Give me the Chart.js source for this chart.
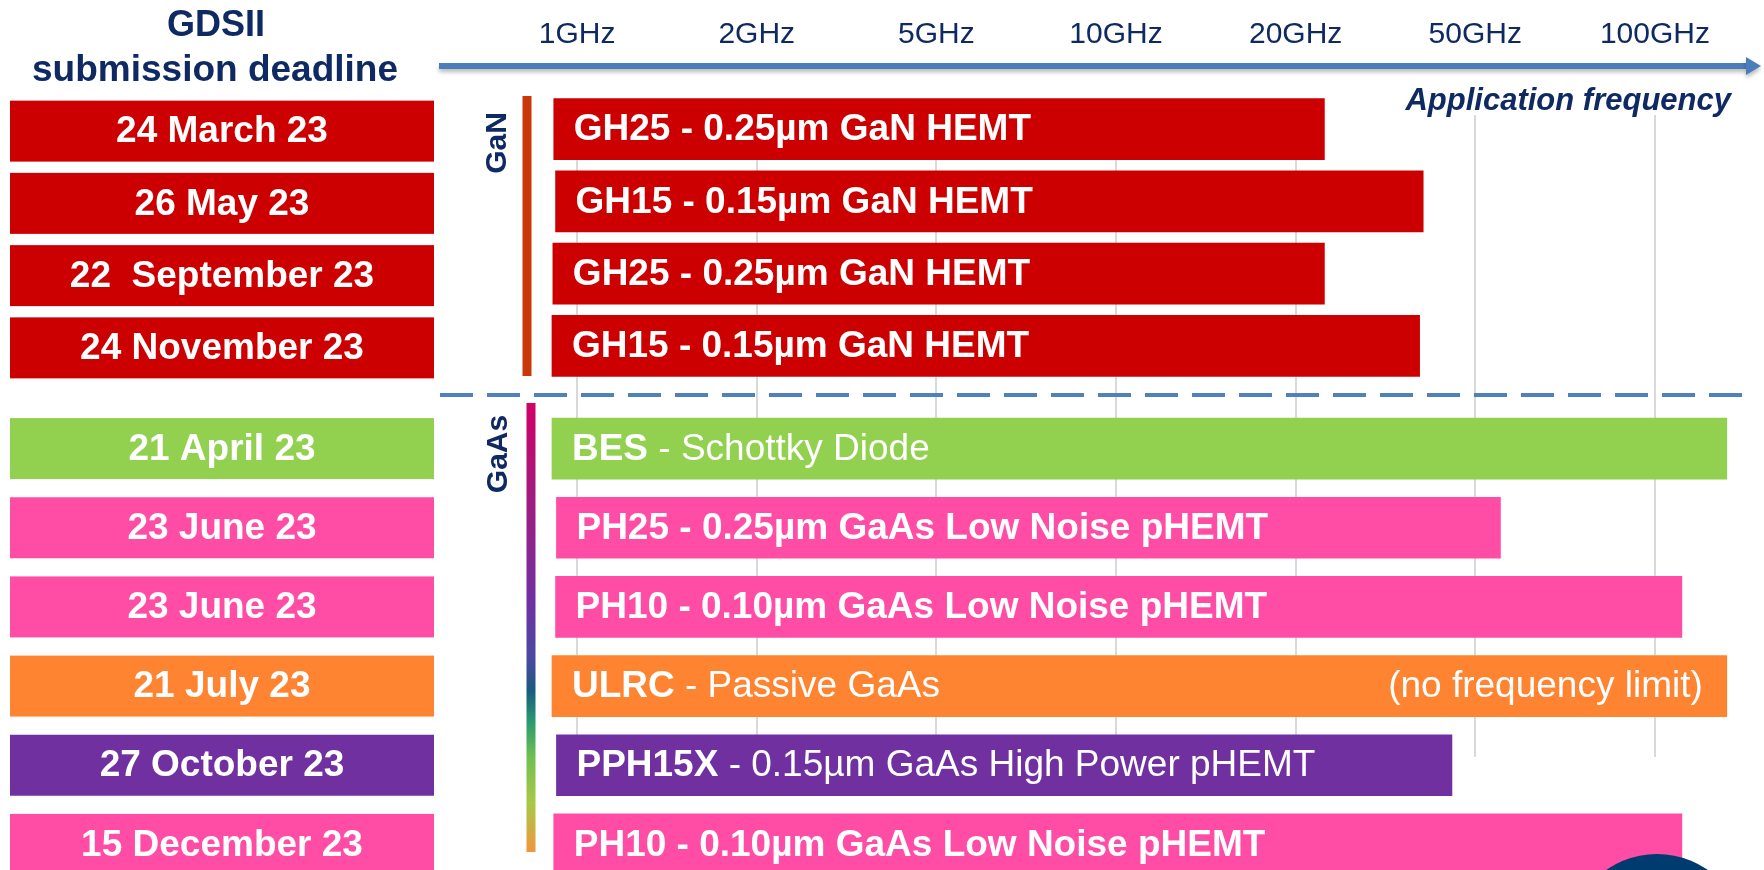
<!DOCTYPE html>
<html>
<head>
<meta charset="utf-8">
<script src="https://cdn.jsdelivr.net/npm/chart.js@4.4.1/dist/chart.umd.min.js"></script>
<style>
  html, body { margin: 0; padding: 0; background: #fff; overflow: hidden; }
  body { width: 1764px; height: 870px; position: relative; }
  #gan { position: absolute; left: 0; top: 0; }
  #gaas { position: absolute; left: 0; top: 400px; }
</style>
</head>
<body>
<canvas id="gan" width="1764" height="400"></canvas>
<canvas id="gaas" width="1764" height="486"></canvas>
<script>
// frequency axis: ticks are evenly spaced, bar values are in tick steps (0 = 1GHz, 6 = 100GHz)
const freqLabels = ["1GHz", "2GHz", "5GHz", "10GHz", "20GHz", "50GHz", "100GHz"];

// GaN processes
const ganDates = ["24 March 23", "26 May 23", "22  September 23", "24 November 23"];
const ganCodes = ["GH25", "GH15", "GH25", "GH15"];
const ganDesc = ["0.25µm GaN HEMT", "0.15µm GaN HEMT", "0.25µm GaN HEMT", "0.15µm GaN HEMT"];
const ganDescBold = [true, true, true, true];
const ganNotes = ["", "", "", ""];
const ganStarts = [-0.13, -0.12, -0.135, -0.14];
const ganEnds = [4.16, 4.71, 4.16, 4.69];
const ganColors = ["#cc0000", "#cc0000", "#cc0000", "#cc0000"];

// GaAs processes
const gaasDates = ["21 April 23", "23 June 23", "23 June 23", "21 July 23", "27 October 23", "15 December 23"];
const gaasCodes = ["BES", "PH25", "PH10", "ULRC", "PPH15X", "PH10"];
const gaasDesc = ["Schottky Diode", "0.25µm GaAs Low Noise pHEMT", "0.10µm GaAs Low Noise pHEMT",
  "Passive GaAs", "0.15µm GaAs High Power pHEMT", "0.10µm GaAs Low Noise pHEMT"];
const gaasDescBold = [false, true, true, false, false, true];
const gaasNotes = ["", "", "", "(no frequency limit)", "", ""];
const gaasStarts = [-0.14, -0.115, -0.12, -0.14, -0.115, -0.13];
const gaasEnds = [6.40, 5.14, 6.15, 6.40, 4.87, 6.15];
const gaasColors = ["#92d050", "#ff4da6", "#ff4da6", "#ff8431", "#7030a0", "#ff4da6"];

const FONT = '"Liberation Sans", Arial, sans-serif';
const NAVY = "#0f2a63";

function makeDeco(cfg) {
  return {
    id: "deco",
    beforeDatasetsDraw(chart) {
      const ctx = chart.ctx, x = chart.scales.x;
      ctx.save();
      ctx.strokeStyle = "#d9d9d9";
      ctx.lineWidth = 2;
      freqLabels.forEach((_, i) => {
        const px = Math.round(x.getPixelForValue(i));
        ctx.beginPath();
        ctx.moveTo(px, cfg.gridTop);
        ctx.lineTo(px, cfg.gridBottom);
        ctx.stroke();
      });
      ctx.restore();
    },
    afterDatasetsDraw(chart) {
      const ctx = chart.ctx, y = chart.scales.y;
      const meta = chart.getDatasetMeta(0);
      ctx.save();
      ctx.textBaseline = "middle";

      // deadline boxes on the left
      cfg.dates.forEach((d, i) => {
        const cy = y.getPixelForValue(i) + cfg.dateShift;
        ctx.fillStyle = cfg.colors[i];
        ctx.fillRect(10, cy - 30.5, 424, 61);
        ctx.fillStyle = "#fff";
        ctx.font = "bold 37px " + FONT;
        ctx.textAlign = "center";
        ctx.fillText(d, 222, cy + 1);
      });

      // labels inside the bars
      meta.data.forEach((bar, i) => {
        const left = Math.min(bar.x, bar.base), right = Math.max(bar.x, bar.base);
        const cy = bar.y + 1;
        let tx = left + 20;
        ctx.fillStyle = "#fff";
        ctx.textAlign = "left";
        ctx.font = "bold 37px " + FONT;
        ctx.fillText(cfg.codes[i], tx, cy);
        tx += ctx.measureText(cfg.codes[i]).width;
        ctx.font = (cfg.descBold[i] ? "bold " : "") + "37px " + FONT;
        ctx.fillText(" - " + cfg.desc[i], tx, cy);
        if (cfg.notes[i]) {
          ctx.textAlign = "right";
          ctx.font = "37px " + FONT;
          ctx.fillText(cfg.notes[i], right - 24, cy);
        }
      });

      // group line + rotated group name
      const g = cfg.group;
      if (g.stops) {
        const grad = ctx.createLinearGradient(0, g.top, 0, g.bottom);
        g.stops.forEach(s => grad.addColorStop(s[0], s[1]));
        ctx.fillStyle = grad;
      } else {
        ctx.fillStyle = g.color;
      }
      ctx.fillRect(g.lineX - 4.5, g.top, 9, g.bottom - g.top);

      ctx.translate(g.lx, g.ly);
      ctx.rotate(-Math.PI / 2);
      ctx.fillStyle = NAVY;
      ctx.font = "bold 30px " + FONT;
      ctx.textAlign = "center";
      ctx.fillText(g.label, 0, 1);
      ctx.restore();

      if (cfg.extra) cfg.extra(ctx);
    }
  };
}

function headerDraw(ctx) {
  ctx.save();
  // column title
  ctx.fillStyle = NAVY;
  ctx.textAlign = "center";
  ctx.textBaseline = "alphabetic";
  ctx.font = "bold 36px " + FONT;
  ctx.fillText("GDSII", 216, 36);
  ctx.font = "bold 37px " + FONT;
  ctx.fillText("submission deadline", 215, 81);

  // axis label
  ctx.textAlign = "right";
  ctx.font = "italic bold 31px " + FONT;
  ctx.fillText("Application frequency", 1731, 110);

  // GaN / GaAs separator
  ctx.strokeStyle = "#4f81bd";
  ctx.lineWidth = 4;
  ctx.setLineDash([33, 14]);
  ctx.beginPath();
  ctx.moveTo(440, 395);
  ctx.lineTo(1752, 395);
  ctx.stroke();
  ctx.setLineDash([]);

  // frequency arrow
  ctx.shadowColor = "rgba(0,0,0,0.28)";
  ctx.shadowBlur = 4;
  ctx.shadowOffsetY = 3;
  ctx.fillStyle = "#4a7ebb";
  ctx.fillRect(439, 63, 1308, 6);
  ctx.beginPath();
  ctx.moveTo(1746, 57);
  ctx.lineTo(1761, 66);
  ctx.lineTo(1746, 75);
  ctx.closePath();
  ctx.fill();
  ctx.restore();
}

function logoDraw(ctx) {
  ctx.save();
  ctx.fillStyle = "#003b6f";
  ctx.beginPath();
  ctx.arc(1657, 543, 89, 0, Math.PI * 2);
  ctx.fill();
  ctx.restore();
}

function xScale(show) {
  return {
    type: "linear",
    position: "top",
    display: show,
    min: -3.2126,
    max: 6.6071,
    afterBuildTicks: (s) => { s.ticks = freqLabels.map((_, i) => ({ value: i })); },
    // tick marks are not drawn (grid hidden) but their length spaces the labels above the bars
    grid: { display: false, drawTicks: true, tickLength: 40 },
    border: { display: false },
    ticks: {
      padding: 0,
      color: NAVY,
      autoSkip: false,
      maxRotation: 0,
      font: { family: FONT, size: 30 },
      callback: (v) => freqLabels[v]
    }
  };
}

function makeChart(id, dates, starts, ends, colors, pad, show, deco) {
  return new Chart(document.getElementById(id), {
    type: "bar",
    data: {
      labels: dates,
      datasets: [{
        data: starts.map((s, i) => [s, ends[i]]),
        backgroundColor: colors,
        borderWidth: 0,
        barThickness: 61
      }]
    },
    options: {
      indexAxis: "y",
      responsive: false,
      animation: false,
      events: [],
      layout: { padding: pad },
      scales: {
        x: xScale(show),
        y: { type: "category", display: false, offset: true }
      },
      plugins: { legend: { display: false }, tooltip: { enabled: false } }
    },
    plugins: [deco]
  });
}

makeChart("gan", ganDates, ganStarts, ganEnds, ganColors,
  { top: 17, bottom: 18, left: 0, right: 0 }, true,
  makeDeco({
    gridTop: 115, gridBottom: 400, dateShift: 2,
    dates: ganDates, colors: ganColors,
    codes: ganCodes, desc: ganDesc, descBold: ganDescBold, notes: ganNotes,
    group: { label: "GaN", lx: 497, ly: 143, lineX: 527, top: 96, bottom: 376, color: "#c8380a" },
    extra: headerDraw
  }));

makeChart("gaas", gaasDates, gaasStarts, gaasEnds, gaasColors,
  { top: 9, bottom: 2, left: 0, right: 0 }, false,
  makeDeco({
    gridTop: 0, gridBottom: 357, dateShift: 0,
    dates: gaasDates, colors: gaasColors,
    codes: gaasCodes, desc: gaasDesc, descBold: gaasDescBold, notes: gaasNotes,
    group: {
      label: "GaAs", lx: 498, ly: 54, lineX: 531, top: 3, bottom: 452,
      stops: [[0, "#d00066"], [0.22, "#a01c80"], [0.44, "#7030a0"], [0.57, "#4a4aa0"],
              [0.64, "#1a5a80"], [0.71, "#2a9a70"], [0.79, "#70c050"], [0.89, "#a8c848"], [1, "#f0963c"]]
    },
    extra: logoDraw
  }));
</script>
</body>
</html>
